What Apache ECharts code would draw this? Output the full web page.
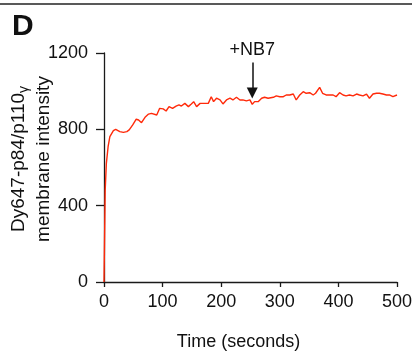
<!DOCTYPE html>
<html>
<head>
<meta charset="utf-8">
<script src="https://cdn.jsdelivr.net/npm/echarts@6/dist/echarts.min.js"></script>
<style>
html,body{margin:0;padding:0;background:#fff;}
#chart{width:412px;height:351px;}
</style>
</head>
<body>
<div id="chart"></div>
<script>
const panelLabel = 'D';
const xAxisName = 'Time (seconds)';
const xTicks = [0, 100, 200, 300, 400, 500];
const yTicks = [0, 400, 800, 1200];
const annotationText = '+NB7';
const annotationTime = 253;
const annotationRange = [1150, 990];

const times = [0,2,4,7,10,16,20,27,33,39,43,49,55,59,64,70,76,81,84,90,95,101,106,111,117,123,128,132,138,144,149,153,158,164,169,178,183,187,192,198,203,209,215,220,226,232,237,243,249,253,257,263,269,274,280,283,289,294,300,306,311,317,323,328,334,340,345,351,357,361,368,373,379,385,391,396,402,408,413,419,425,431,436,442,448,453,459,465,470,476,482,487,493,500];
const intensity = [0,480,620,709,762,793,800,788,784,788,797,823,853,849,835,863,880,884,880,875,910,907,896,919,910,922,928,922,936,919,933,945,919,936,936,936,971,945,963,954,933,954,963,954,968,954,954,949,954,931,945,945,963,968,963,971,968,975,971,971,980,980,985,954,980,997,989,992,980,989,1020,989,980,980,980,971,992,980,975,980,975,985,980,975,985,963,985,989,989,985,980,980,971,980];

const font = "'Liberation Sans', Arial, sans-serif";
const axisColor = '#1a1a1a';
const chart = echarts.init(document.getElementById('chart'), null, {renderer: 'canvas'});
chart.setOption({
  animation: false,
  backgroundColor: '#fff',
  grid: {left: 104, right: 15, top: 53, bottom: 69, containLabel: false, outerBoundsMode: 'none'},
  xAxis: {
    type: 'value', min: xTicks[0], max: xTicks[xTicks.length - 1], interval: 100,
    name: xAxisName, nameLocation: 'middle', nameGap: 51, nameMoveOverlap: false,
    nameTextStyle: {fontFamily: font, fontSize: 18, color: '#111', padding: [0, 24, 0, 0]},
    axisLine: {lineStyle: {color: axisColor, width: 1.3}},
    axisTick: {show: true, inside: false, length: 5, lineStyle: {color: axisColor, width: 1.3}},
    axisLabel: {fontFamily: font, fontSize: 18, color: '#111', margin: 11, formatter: v => String(v)},
    splitLine: {show: false}
  },
  yAxis: {
    type: 'value', min: yTicks[0], max: yTicks[yTicks.length - 1], interval: 400,
    name: 'Dy647-p84/p110{sub|γ}\nmembrane intensity', nameLocation: 'middle', nameGap: 48, nameRotate: 90, nameMoveOverlap: false,
    nameTextStyle: {fontFamily: font, fontSize: 19, color: '#111', lineHeight: 25, padding: [0, 0, 0, 17],
      rich: {sub: {fontFamily: font, fontSize: 14, color: '#111', verticalAlign: 'bottom', lineHeight: 14, padding: [9, 0, 0, 0]}}},
    axisLine: {show: true, lineStyle: {color: axisColor, width: 1.3}},
    axisTick: {show: true, inside: false, length: 8, lineStyle: {color: axisColor, width: 1.3}},
    axisLabel: {fontFamily: font, fontSize: 18, color: '#111', margin: 16, formatter: v => String(v)},
    splitLine: {show: false}
  },
  graphic: [
    {type: 'line', shape: {x1: 0, y1: 4, x2: 412, y2: 4}, style: {stroke: '#222', lineWidth: 1.5}},
    {type: 'text', left: 12, top: 12, style: {text: panelLabel, font: "bold 30px 'Liberation Sans', Arial, sans-serif", fill: '#111'}}
  ],
  series: [{
    type: 'line',
    data: times.map((t, i) => [t, intensity[i]]),
    showSymbol: false,
    symbol: 'none',
    lineStyle: {color: '#ff2a0a', width: 1.4},
    markLine: {
      silent: true,
      symbol: ['none', 'triangle'],
      symbolSize: [11, 11],
      lineStyle: {color: '#111', width: 1.5, type: 'solid'},
      label: {show: true, position: 'start', formatter: annotationText, fontFamily: font, fontSize: 18, color: '#111', distance: 4},
      data: [[{coord: [annotationTime, annotationRange[0]]}, {coord: [annotationTime, annotationRange[1]]}]]
    }
  }]
});
</script>
</body>
</html>
